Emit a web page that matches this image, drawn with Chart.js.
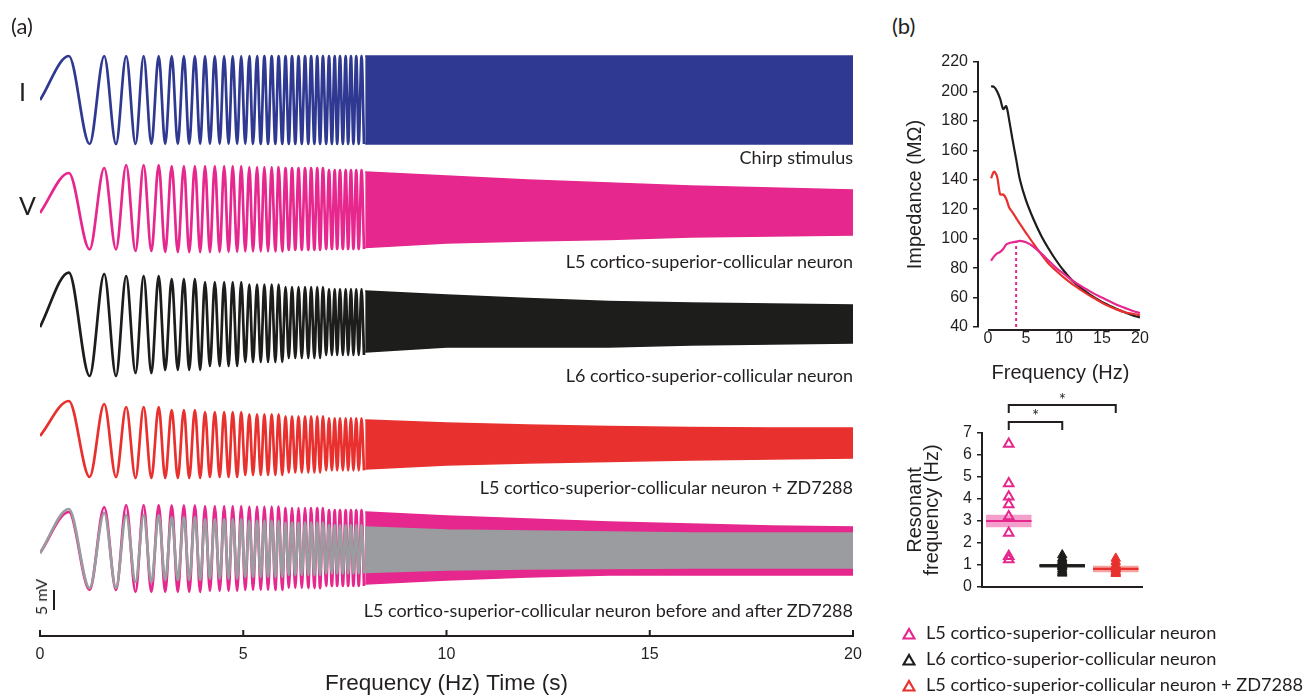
<!DOCTYPE html>
<html>
<head>
<meta charset="utf-8">
<script src="https://cdn.jsdelivr.net/npm/chart.js@4.4.1/dist/chart.umd.min.js"></script>
<style>
  body { margin: 0; background: #fff; width: 1312px; height: 696px; position: relative; overflow: hidden;
         font-family: Lato, 'Open Sans', sans-serif; color: #231f20; }
  .abs { position: absolute; white-space: nowrap; line-height: 1; }
  .cap { font-size: 18px; right: 459px; }
  .panel { font-size: 22px; }
  .big { font-size: 25px; }
  .leg { font-size: 18.2px; left: 926px; }
  .tri { position: absolute; left: 902px; }
  canvas { position: absolute; }
</style>
</head>
<body>
<canvas id="tracesChart" width="880" height="696" style="left:0;top:0"></canvas>
<canvas id="impedanceChart" width="270" height="350" style="left:890px;top:40px"></canvas>
<canvas id="resonanceChart" width="260" height="236" style="left:890px;top:380px"></canvas>

<div class="abs panel" style="left:11px;top:15px">(a)</div>
<div class="abs panel" style="left:892px;top:15px">(b)</div>
<div class="abs big" style="left:19px;top:79px">I</div>
<div class="abs big" style="left:19px;top:193px">V</div>
<div class="abs" style="left:41px;top:597px;font-size:16px;transform:translate(-50%,-50%) rotate(-90deg)">5 mV</div>

<div class="abs cap" style="top:148px">Chirp stimulus</div>
<div class="abs cap" style="top:252px">L5 cortico-superior-collicular neuron</div>
<div class="abs cap" style="top:366px">L6 cortico-superior-collicular neuron</div>
<div class="abs cap" style="top:478px">L5 cortico-superior-collicular neuron + ZD7288</div>
<div class="abs cap" style="top:601px">L5 cortico-superior-collicular neuron before and after ZD7288</div>

<svg class="tri" style="top:627px" width="14" height="13"><polygon points="7,2 12.5,11.5 1.5,11.5" fill="none" stroke="#e6278d" stroke-width="2.2"/></svg>
<svg class="tri" style="top:653px" width="14" height="13"><polygon points="7,2 12.5,11.5 1.5,11.5" fill="none" stroke="#1d1d1b" stroke-width="2.2"/></svg>
<svg class="tri" style="top:679px" width="14" height="13"><polygon points="7,2 12.5,11.5 1.5,11.5" fill="none" stroke="#e8312f" stroke-width="2.2"/></svg>
<div class="abs leg" style="top:623px">L5 cortico-superior-collicular neuron</div>
<div class="abs leg" style="top:649px">L6 cortico-superior-collicular neuron</div>
<div class="abs leg" style="top:675px">L5 cortico-superior-collicular neuron + ZD7288</div>

<script>
// ---- (a) chirp traces ----
// times (s) of successive peaks / troughs of the chirp, peak first
const extremaTimes = [0.71, 1.22, 1.58, 1.87, 2.12, 2.35, 2.55, 2.74, 2.92, 3.08, 3.24, 3.39, 3.54, 3.67,
  3.81, 3.94, 4.06, 4.18, 4.30, 4.42, 4.53, 4.64, 4.74, 4.85, 4.95, 5.05, 5.15, 5.24, 5.34, 5.43, 5.52,
  5.61, 5.70, 5.79, 5.87, 5.96, 6.04, 6.12, 6.20, 6.28, 6.36, 6.44, 6.52, 6.60, 6.67, 6.75, 6.82, 6.89,
  6.96, 7.04, 7.11, 7.18, 7.25, 7.31, 7.38, 7.45, 7.52, 7.58, 7.65, 7.71, 7.78, 7.84, 7.91, 7.97];

// envelope knots (s) and upper / lower envelope of each trace (mV from rest)
const envTimes = [0, 1, 2, 3, 4, 5, 6, 7, 8, 10, 12, 14, 16, 18, 20];
const chirpUpper = [11, 11, 11, 11, 11, 11, 11, 11, 11, 11, 11, 11, 11, 11, 11];
const chirpLower = [-11, -11, -11, -11, -11, -11, -11, -11, -11, -11, -11, -11, -11, -11, -11];
const l5Upper = [10, 11.25, 12, 11.75, 11.75, 11.5, 11.25, 10.75, 10.25, 9.25, 8.25, 7.5, 6.75, 6.25, 5.75];
const l5Lower = [-9.1, -9.1, -9.5, -9.75, -9.75, -9.6, -9.25, -9, -8.6, -7.5, -7, -6.6, -6, -5.75, -5.5];
const l6Upper = [13.6, 13.25, 12.75, 12, 11.25, 10.6, 10, 9.5, 9, 8, 7.1, 6.4, 6, 5.75, 5.5];
const l6Lower = [-12.25, -12.25, -11.5, -10.75, -9.75, -8.75, -7.75, -7, -6.25, -5, -5, -5, -4.5, -4.25, -4];
const zdUpper = [8.75, 8, 7.25, 6.5, 6, 5.4, 4.9, 4.4, 4, 3.25, 2.75, 2.4, 2.1, 2, 2];
const zdLower = [-10.25, -10.25, -10.5, -10.5, -10.25, -9.75, -9.1, -8.6, -8.25, -7.25, -6.75, -6.4, -6, -5.75, -5.5];
const beforeUpper = [10.25, 11.5, 12, 11.9, 11.75, 11.6, 11.25, 10.75, 10.25, 9.25, 8.5, 7.75, 7.25, 6.75, 6.5];
const beforeLower = [-9.25, -9.25, -9.75, -9.75, -9.5, -9.25, -8.75, -8.25, -7.75, -6.75, -6, -5.5, -5.5, -5.5, -5.5];
const afterUpper = [11, 10, 9.5, 9, 8.5, 8.1, 7.6, 7, 6.5, 5.75, 5.5, 5.25, 5, 5, 5];
const afterLower = [-8.75, -8.75, -7.25, -6.75, -6.4, -6, -5.5, -5.1, -4.9, -4.25, -4, -3.9, -3.75, -3.75, -3.75];
const scaleBarMv = 5;
const timeTicks = [0, 5, 10, 15, 20];

// ---- (b) impedance profiles ----
const impFreq = [0.4, 0.8, 1.2, 1.6, 2.0, 2.4, 2.8, 3.2, 3.7, 4.2, 5, 6, 7, 8, 9, 10, 11, 12, 13, 14, 15, 16, 17, 18, 19, 20];
const impL6 = [203.5, 203, 200, 195, 188, 190, 180, 168, 154, 140, 126, 113, 102, 93, 85, 78, 72, 67.5, 63.5, 60, 57, 54.5, 52, 50, 48, 46.5];
const impZD = [141, 145.5, 142, 130, 130, 127, 121, 118, 114, 110, 104, 96.5, 89.5, 83, 78, 73.5, 69.5, 66, 62.5, 59.5, 56.5, 54, 51.8, 50, 49, 48];
const impL5 = [85, 88, 90, 91, 93, 96, 97, 97.5, 98, 98.5, 97.5, 94.5, 90, 85, 80, 76, 72, 68.5, 65.5, 62.5, 60, 57.5, 55, 53, 51, 49.5];
const resPeakFreq = 3.7;
const resPeakImp = 98;

// ---- (b) resonant frequency per group ----
const groupLabels = ['L5', 'L6', 'L5'];
const resL5 = [6.5, 4.7, 4.1, 3.75, 3.2, 2.45, 1.4, 1.25];
const resL6 = [1.45, 1.3, 1.2, 1.1, 1.0, 0.95, 0.9, 0.8, 0.7, 0.62];
const resZD = [1.3, 1.15, 1.0, 0.9, 0.85, 0.8, 0.7, 0.65, 0.6];
const groupMean = [3.0, 0.97, 0.82];
const groupSem = [0.28, 0.08, 0.15];

const INK = '#231f20';
const BLUE = '#2f3991', MAGENTA = '#e6278d', BLACK = '#1d1d1b', RED = '#e8312f', GREY = '#9a9c9f';

// value of the envelope segment that holds time t
function envAt(vals, t) {
    let k = 0;
    while (k + 1 < envTimes.length && envTimes[k + 1] <= t) k++;
    return vals[k];
}

// vertical rest level of each trace (mV on the stacked axis)
const traceLayout = [
    { up: chirpUpper, lo: chirpLower, base: 134, color: BLUE, order: 1 },
    { up: l5Upper, lo: l5Lower, base: 105.75, color: MAGENTA, order: 1 },
    { up: l6Upper, lo: l6Lower, base: 77.25, color: BLACK, order: 1 },
    { up: zdUpper, lo: zdLower, base: 50, color: RED, order: 1 },
    { up: beforeUpper, lo: beforeLower, base: 20.75, color: MAGENTA, order: 1 },
    { up: afterUpper, lo: afterLower, base: 20.75, color: GREY, order: 0 }
];

const traceDatasets = [];
const bandStart = envTimes.indexOf(8);
traceLayout.forEach(tr => {
    const cycles = [{ x: 0, y: tr.base }].concat(
        extremaTimes.map((t, i) => ({ x: t, y: tr.base + envAt(i % 2 ? tr.lo : tr.up, t) })));
    traceDatasets.push({
        data: cycles, borderColor: tr.color, borderWidth: 2.7, pointRadius: 0,
        cubicInterpolationMode: 'monotone', fill: false, order: tr.order
    });
    traceDatasets.push({
        data: envTimes.slice(bandStart).map((t, k) => ({ x: t, y: tr.base + tr.up[bandStart + k] })),
        borderColor: tr.color, borderWidth: 1.5, pointRadius: 0, fill: false, order: tr.order
    });
    traceDatasets.push({
        data: envTimes.slice(bandStart).map((t, k) => ({ x: t, y: tr.base + tr.lo[bandStart + k] })),
        borderColor: tr.color, backgroundColor: tr.color, borderWidth: 1.5, pointRadius: 0,
        fill: '-1', order: tr.order
    });
});

// inward tick marks on the time axis + 5 mV scale bar
const timeAxisDecor = {
    id: 'timeAxisDecor',
    afterDraw(chart) {
        const { ctx } = chart;
        const xs = chart.scales.x, ys = chart.scales.y;
        ctx.save();
        ctx.strokeStyle = INK;
        ctx.lineWidth = 2;
        timeTicks.forEach(v => {
            const px = xs.getPixelForValue(v);
            ctx.beginPath();
            ctx.moveTo(px, xs.top);
            ctx.lineTo(px, xs.top - 6);
            ctx.stroke();
        });
        ctx.beginPath();
        ctx.moveTo(54, ys.getPixelForValue(6.5));
        ctx.lineTo(54, ys.getPixelForValue(6.5 + scaleBarMv));
        ctx.stroke();
        ctx.restore();
    }
};

new Chart(document.getElementById('tracesChart'), {
    type: 'line',
    data: { datasets: traceDatasets },
    options: {
        responsive: false, animation: false, events: [],
        layout: { padding: { left: 40, right: 27, top: 40, bottom: 0 } },
        plugins: { legend: { display: false }, tooltip: { enabled: false } },
        scales: {
            x: {
                type: 'linear', min: 0, max: 20,
                ticks: { stepSize: 5, color: INK, font: { size: 16 }, padding: 9 },
                grid: { display: false, drawTicks: false },
                border: { display: true, color: INK, width: 2 },
                title: { display: true, text: 'Frequency (Hz) Time (s)', color: INK, font: { size: 22.5, lineHeight: 1.1 }, padding: { top: 0, bottom: 0 } },
                afterFit: s => { s.height = 60; }
            },
            y: { display: false, min: 0, max: 149 }
        }
    },
    plugins: [timeAxisDecor]
});

// x axis line of the impedance plot spans 0-20 Hz only
const freqAxisLine = {
    id: 'freqAxisLine',
    afterDraw(chart) {
        const { ctx } = chart;
        const xs = chart.scales.x;
        const y = chart.chartArea.bottom + 3;
        ctx.save();
        ctx.strokeStyle = INK;
        ctx.lineWidth = 2;
        ctx.beginPath();
        ctx.moveTo(xs.getPixelForValue(0), y);
        ctx.lineTo(xs.getPixelForValue(20), y);
        ctx.stroke();
        ctx.restore();
    }
};

const toPts = (xs, ys) => xs.map((x, i) => ({ x: x, y: ys[i] }));

new Chart(document.getElementById('impedanceChart'), {
    type: 'line',
    data: {
        datasets: [
            { data: toPts(impFreq, impL5), borderColor: MAGENTA, borderWidth: 2.2, pointRadius: 0, tension: 0.3 },
            { data: toPts(impFreq, impZD), borderColor: RED, borderWidth: 2.2, pointRadius: 0, tension: 0.3 },
            { data: toPts(impFreq, impL6), borderColor: BLACK, borderWidth: 2.2, pointRadius: 0, tension: 0.3 },
            { data: [{ x: resPeakFreq, y: 40 }, { x: resPeakFreq, y: resPeakImp }], borderColor: MAGENTA,
              borderWidth: 2, borderDash: [3, 3], pointRadius: 0 }
        ]
    },
    options: {
        responsive: false, animation: false, events: [],
        layout: { padding: { left: 0, right: 17, top: 22, bottom: 0 } },
        plugins: { legend: { display: false }, tooltip: { enabled: false } },
        scales: {
            x: {
                type: 'linear', min: -1.32, max: 20.4,
                ticks: { stepSize: 5, includeBounds: false, color: INK, font: { size: 16 }, padding: 2 },
                grid: { display: false, drawTicks: false },
                border: { display: false },
                title: { display: true, text: 'Frequency (Hz)', color: INK, font: { size: 20 }, padding: { top: 0, bottom: 5 } },
                afterFit: s => { s.height = 63; }
            },
            y: {
                min: 40, max: 220,
                ticks: { stepSize: 20, color: INK, font: { size: 16 }, padding: 5 },
                grid: { drawOnChartArea: false, tickLength: 5, color: INK, lineWidth: 1.5 },
                border: { display: true, color: INK, width: 2 },
                title: { display: true, text: 'Impedance (MΩ)', color: INK, font: { size: 20 }, padding: { top: 13, bottom: 0 } },
                afterFit: s => { s.width = 88; }
            }
        }
    },
    plugins: [freqAxisLine]
});

// significance brackets above the groups
const sigBrackets = {
    id: 'sigBrackets',
    afterDraw(chart) {
        const { ctx } = chart;
        const xs = chart.scales.x;
        const g0 = xs.getPixelForValue(0), g1 = xs.getPixelForValue(1), g2 = xs.getPixelForValue(2);
        ctx.save();
        ctx.strokeStyle = INK;
        ctx.lineWidth = 2;
        [[g2, 25], [g1, 42]].forEach(([gx, y]) => {
            ctx.beginPath();
            ctx.moveTo(g0, y + 8);
            ctx.lineTo(g0, y);
            ctx.lineTo(gx, y);
            ctx.lineTo(gx, y + 8);
            ctx.stroke();
        });
        ctx.fillStyle = INK;
        ctx.font = '17px Lato';
        ctx.textAlign = 'center';
        ctx.textBaseline = 'middle';
        ctx.fillText('*', (g0 + g2) / 2, 21);
        ctx.fillText('*', (g0 + g1) / 2, 37);
        ctx.restore();
    }
};

const groupPts = (vals, g) => vals.map(v => ({ x: g, y: v }));

new Chart(document.getElementById('resonanceChart'), {
    type: 'bar',
    data: {
        datasets: [
            { type: 'line', data: groupPts(resL5, 0), showLine: false, pointStyle: 'triangle', pointRadius: 5.5,
              pointBorderWidth: 2, pointBorderColor: MAGENTA, pointBackgroundColor: 'rgba(0,0,0,0)', order: 0 },
            { type: 'line', data: groupPts(resL6, 1), showLine: false, pointStyle: 'triangle', pointRadius: 5.5,
              pointBorderWidth: 1, pointBorderColor: BLACK, pointBackgroundColor: BLACK, order: 0 },
            { type: 'line', data: groupPts(resZD, 2), showLine: false, pointStyle: 'triangle', pointRadius: 5.5,
              pointBorderWidth: 1, pointBorderColor: RED, pointBackgroundColor: RED, order: 0 },
            { type: 'bar', data: groupMean.map((m, g) => ({ x: g, y: [m - 0.05, m + 0.05] })),
              backgroundColor: [MAGENTA, BLACK, RED], barPercentage: 0.85, categoryPercentage: 1, grouped: false, order: 1 },
            { type: 'bar', data: groupMean.map((m, g) => ({ x: g, y: [m - groupSem[g], m + groupSem[g]] })),
              backgroundColor: ['rgba(230,39,141,0.45)', 'rgba(29,29,27,0.9)', 'rgba(232,49,47,0.45)'],
              barPercentage: 0.85, categoryPercentage: 1, grouped: false, order: 2 }
        ]
    },
    options: {
        responsive: false, animation: false, events: [],
        layout: { padding: { left: 0, right: 5, top: 53, bottom: 0 } },
        plugins: { legend: { display: false }, tooltip: { enabled: false } },
        scales: {
            x: {
                type: 'linear', min: -0.5, max: 2.5, offset: false,
                ticks: { stepSize: 1, includeBounds: false, color: INK, font: { size: 16 }, padding: 6,
                         callback: v => groupLabels[v] },
                grid: { display: false, drawTicks: false },
                border: { display: true, color: INK, width: 2 },
                afterFit: s => { s.height = 29; }
            },
            y: {
                min: 0, max: 7,
                ticks: { stepSize: 1, autoSkip: false, color: INK, font: { size: 16 }, padding: 5 },
                grid: { drawOnChartArea: false, tickLength: 5, color: INK, lineWidth: 1.5 },
                border: { display: true, color: INK, width: 2 },
                title: { display: true, text: ['Resonant', 'frequency (Hz)'], color: INK,
                         font: { size: 20, lineHeight: 0.85 }, padding: { top: 17, bottom: 0 } },
                afterFit: s => { s.width = 92; }
            }
        }
    },
    plugins: [sigBrackets]
});
</script>
</body>
</html>
